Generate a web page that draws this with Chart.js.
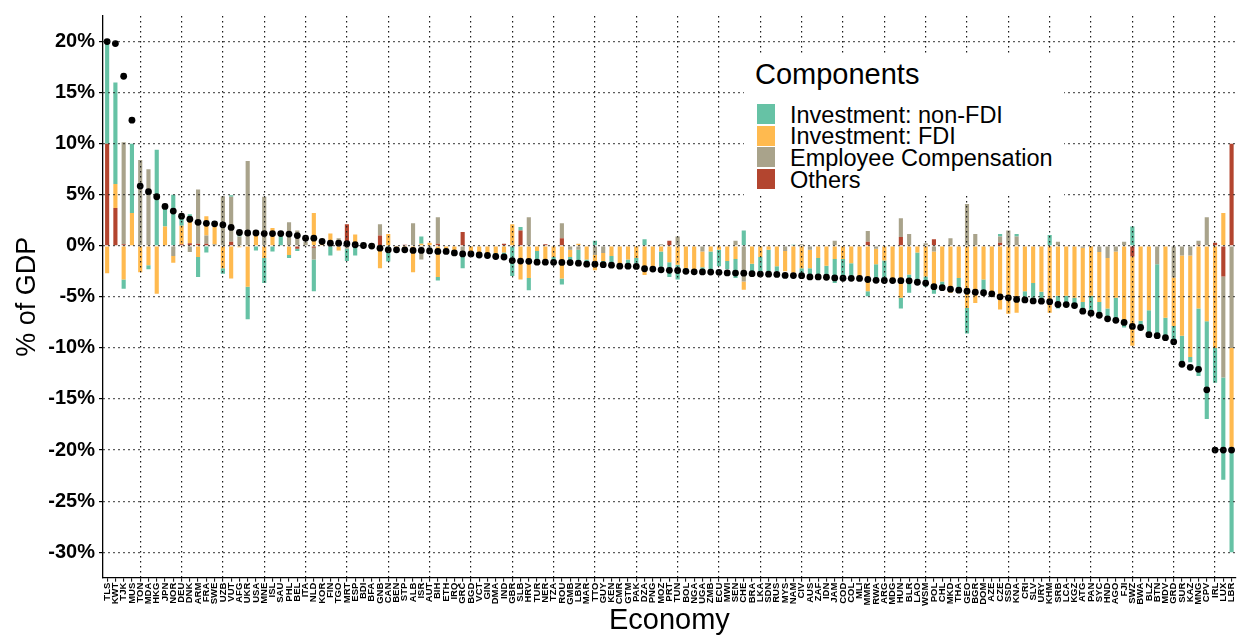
<!DOCTYPE html>
<html>
<head>
<meta charset="utf-8">
<script src="https://cdn.jsdelivr.net/npm/chart.js@4.4.1/dist/chart.umd.min.js"></script>
<style>
  html, body { margin: 0; padding: 0; background: #fff; overflow: hidden; }
  #wrap { position: relative; width: 1244px; height: 635px; }
  #legend { position: absolute; left: 744px; top: 55px; width: 320px; height: 141px; background: #fff;
            font-family: "Liberation Sans", Arial, sans-serif; color: #000; }
  #legend .ttl { position: absolute; left: 11px; top: 3px; font-size: 29px; line-height: 32px; white-space: nowrap; }
  #legend .key { position: absolute; left: 13px; width: 18px; height: 20px; }
  #legend .lab { position: absolute; left: 46px; font-size: 23.5px; line-height: 22px; white-space: nowrap; }
</style>
</head>
<body>
<div id="wrap">
  <canvas id="chart"></canvas>
  <div id="legend"></div>
</div>
<script>
const economies = ['TLS','KWT','TJK','MUS','TON','MDA','HKG','JPN','NOR','DEU','DNK','ARM','FRA','SWE','UZB','VUT','AFG','UKR','USA','MNE',
  'ISL','SAU','PHL','BEL','ITA','NLD','KOR','FIN','TGO','MRT','ESP','BDI','BFA','GNB','CAN','BEN','STP','ALB','ISR','AUT',
  'BIH','ETH','IRQ','GRC','BGD','VCT','GIN','DMA','IND','GBR','SLB','HRV','TUR','NER','TZA','ROU','GMB','LBN','MAR','TTO',
  'GUY','KEN','CMR','GTM','PAK','DZA','PNG','MOZ','PRT','TUN','BOL','NGA','UGA','ZMB','ECU','MWI','SEN','CHE','BRA','LKA',
  'SDN','RUS','MYS','NAM','CIV','AUS','ZAF','IDN','JAM','COD','COL','MLI','MMR','RWA','ARG','MDG','HUN','BLR','LAO','WSM',
  'POL','CHL','MKD','THA','GEO','BGR','DOM','AZE','CZE','SSD','KNA','CRI','SLV','URY','KHM','SRB','LCA','KGZ','ATG','PAN',
  'SYC','HND','AGO','FJI','SWZ','BWA','BLZ','BTN','MDV','GRD','SUR','KAZ','MNG','CPV','IRL','LUX','LBR'];

// % of GDP, one value per economy
const nonFdi = [10,9.95,-0.9,6.8,0,-0.4,9.4,1.7,5.0,0.9,0.25,-1.95,-0.65,0,-0.55,0.15,0.6,-3.2,-0.45,-2.45,
  -0.55,1.25,-0.3,-0.2,0,-3.1,0,-0.95,0,-1.2,-0.95,0,0,0,-1.55,0,0,0,0.7,-0.5,
  -0.35,-0.3,-0.2,-1.5,0,-0.3,0,-0.3,-0.25,-2.95,0.35,-1.2,-1.15,0,-0.3,-0.6,-0.5,-1.5,-0.3,0.5,
  -0.4,-0.65,0,-0.65,-0.5,0.65,0,-1.5,-1.45,-1.45,-0.25,0,-0.3,-1.85,-1.6,-0.8,-1.85,1.5,-0.85,-1.7,
  -2.1,-0.5,0,0.1,-0.65,-0.65,-1.6,-0.9,-2.35,-1.8,-1.3,0,-0.5,-1.5,-1.8,0,-1.05,-1.8,-3.0,-1.0,
  -0.4,-0.6,0,-1.45,-2.5,0,-1.3,0,0.25,0,0.25,-0.65,-1.45,-0.65,1.05,-1.25,-1.0,-0.55,-0.85,-1.6,
  -1.1,-1.2,-2.45,-0.5,1.9,-0.8,-2.65,-7.0,-1.95,-1.85,-2.75,-0.5,-6.6,-9.55,-3.4,-10.0,-10];
const fdi = [-2.7,2.35,-3.3,3.2,-2.6,-1.9,-4.7,1.9,-0.65,1.8,2.6,-1.1,1.9,1.7,-2.2,-3.2,-0.15,-4.0,1.55,-1.2,
  1.75,0,-0.9,0,0,3.2,0.2,1.2,-0.45,0,1.1,0.05,-0.1,-2.2,1.15,-0.4,-0.4,-2.6,0.2,0.3,
  -3.05,-0.3,-0.5,0,-0.7,-0.6,-0.75,-0.7,-0.65,2.1,-3.3,-3.15,-0.5,-1.3,-1.1,-3.2,-0.7,0.2,-1.35,-1.5,
  -0.8,-1.0,-2.0,-1.35,-1.2,-2.85,-2.0,-0.55,-1.6,-1.85,-2.2,-2.4,-1.55,-0.55,-0.4,-1.5,-1.3,-0.8,-1.75,-1.1,
  -0.4,-2.0,-2.0,-2.65,-2.2,-1.8,-1.2,-1.95,-1.3,-1.3,-1.7,-3.0,-4.45,-1.5,-1.45,-3.3,-5.1,-2.8,-0.65,-3.0,
  -3.75,-3.5,-4.6,-3.15,-6.1,-5.6,-3.3,-4.8,-6.25,-6.65,-6.55,-4.45,-3.65,-4.5,-6.55,-4.9,-4.9,-5.1,-5.3,-4.9,
  -4.9,-4.95,-4.55,-7.5,-8.75,-7.35,-6.3,0,-7.05,-4.75,-7.85,-9.95,-6.15,-7.4,-10.0,3.2,-10];
const compensation = [0,0,10.0,0,8.4,7.5,0,0,-1.0,0,-0.6,5.3,0.8,0.15,4.85,4.4,0.9,8.3,0,4.8,
  0,0,2.3,1.5,0.4,-1.15,0,0,0.75,-0.3,0,0,0,1.1,0,0,0,2.2,-1.35,-0.2,
  2.6,0,0,-0.7,0,0,0,0,0,0,0,2.8,0,0,0,1.45,-0.4,-0.4,0,-0.9,
  -0.7,0,0,0,0,0,0,0.15,0,0.9,0,0,-0.55,0,0,0,0.5,-3.5,0,0,
  0,0,-0.5,0,0.15,-0.4,0,0,0.5,0,0,0,1.05,-0.3,0,0,1.85,1.15,0,0.25,
  -0.55,0,0.75,0,4.1,1.15,0,0,0.6,1.5,0.9,0,0,0,0,0.4,0,0,-0.2,0,
  -0.6,-1.2,-0.55,0.4,0,0,0,-1.8,0,-3.1,-0.95,-0.95,0.4,2.8,0,-9.9,-10];
const others = [10,3.7,0.15,0,0,0,0,0,0,0.15,0.25,0.2,0.2,0,0,0.4,0,0,0,0,
  0,0,0,-0.3,0,-0.2,0,0,0,2.1,0,0,0,1.0,0,0,0.1,0,0,0,
  0.2,0,0,1.35,0,0,0,0,0.2,0,1.5,0,0,0.15,0,0.75,0,0,0,0,
  0,0,0,0,0,0,0,0,0.5,0,0,0,0,0,0,0,0,0,0,0,
  0,0,0,0,0,0,0,0,0,0,0,0,0.4,0,0,0,0.85,0,0,0,
  0.65,0,0,0,0,0,0,0,0.3,0,0,0,0,0,0,0,0,0,0,0,
  0,0,0,0,-1.05,0,0,0,0,0,0,0,0.1,0,0.3,-3.0,10];
const balance = [20,19.8,16.6,12.3,5.85,5.3,4.8,3.85,3.4,2.9,2.6,2.3,2.2,2.15,2.05,1.8,1.3,1.25,1.25,1.2,
  1.2,1.2,1.15,1.0,0.75,0.75,0.42,0.26,0.26,0.2,0.1,0.03,-0.03,-0.23,-0.4,-0.4,-0.4,-0.45,-0.45,-0.5,
  -0.55,-0.55,-0.7,-0.8,-0.8,-0.9,-0.95,-1.05,-1.1,-1.45,-1.5,-1.52,-1.6,-1.6,-1.62,-1.63,-1.64,-1.7,-1.8,-1.8,
  -1.85,-1.9,-2.0,-2.0,-2.02,-2.25,-2.28,-2.35,-2.4,-2.42,-2.5,-2.55,-2.56,-2.57,-2.6,-2.66,-2.67,-2.68,-2.73,-2.77,
  -2.78,-2.8,-2.9,-2.92,-2.93,-3.05,-3.05,-3.08,-3.15,-3.18,-3.19,-3.2,-3.3,-3.38,-3.4,-3.41,-3.42,-3.43,-3.57,-3.65,
  -4.0,-4.1,-4.25,-4.35,-4.45,-4.55,-4.6,-4.7,-5.0,-5.1,-5.25,-5.3,-5.4,-5.42,-5.48,-5.75,-5.76,-5.85,-6.4,-6.6,
  -6.8,-7.15,-7.3,-7.5,-7.9,-8.0,-8.7,-8.8,-9.0,-9.4,-11.6,-11.9,-12.1,-14.1,-20,-20,-20];

const yTicks = [-30,-25,-20,-15,-10,-5,0,5,10,15,20];

const legendItems = [
  {label: 'Investment: non-FDI', color: '#66c2a5'},
  {label: 'Investment: FDI', color: '#ffba4f'},
  {label: 'Employee Compensation', color: '#a9a38b'},
  {label: 'Others', color: '#b3452f'}
];

const font = '"Liberation Sans", Arial, sans-serif';
Chart.defaults.font.family = font;
Chart.defaults.color = '#000';

const gridDot = '#1a1a1a';

const barSet = (label, data, color) => ({
  type: 'bar', label: label, data: data, backgroundColor: color, borderWidth: 0,
  stack: 'comp', barPercentage: 0.5, categoryPercentage: 1.0
});

const data = {
  labels: economies,
  datasets: [
    {
      type: 'line', label: 'balance', data: balance, stack: 'dots', order: -1,
      showLine: false, pointRadius: 3.4, pointHoverRadius: 3.4,
      pointBackgroundColor: '#000', pointBorderWidth: 0, borderColor: '#000'
    },
    barSet('Others', others, legendItems[3].color),
    barSet('Employee Compensation', compensation, legendItems[2].color),
    barSet('Investment: FDI', fdi, legendItems[1].color),
    barSet('Investment: non-FDI', nonFdi, legendItems[0].color)
  ]
};

const config = {
  type: 'bar',
  data: data,
  options: {
    responsive: true,
    maintainAspectRatio: false,
    animation: false,
    layout: { padding: { top: 12.3, right: 0, bottom: 0, left: 0 } },
    plugins: { legend: { display: false }, tooltip: { enabled: false } },
    scales: {
      x: {
        offset: true,
        grid: {
          offset: false, z: 1, lineWidth: 1.2,
          color: (ctx) => (ctx.index % 5 === 4 ? gridDot : 'rgba(0,0,0,0)'),
          tickColor: '#000', tickLength: 4, tickWidth: 1
        },
        border: { display: true, color: '#000', width: 1.3, dash: [1.4, 3.6], z: 2 },
        ticks: {
          autoSkip: false, maxRotation: 90, minRotation: 90, padding: 1,
          font: { size: 9.5, weight: 'bold' }, color: '#000'
        },
        title: { display: true, text: 'Economy', font: { size: 29, lineHeight: 1 }, padding: { top: 0, bottom: 0 } },
        afterFit: (scale) => { scale.height = 635 - 577.7; }
      },
      y: {
        stacked: true,
        min: -32.5, max: 22.5,
        afterBuildTicks: (scale) => { scale.ticks = yTicks.map(v => ({ value: v })); },
        grid: { z: 1, color: gridDot, lineWidth: 1.2, tickColor: '#000', tickLength: 4 },
        border: { display: true, color: '#000', width: 1.3, dash: [1.4, 3.6], z: 2 },
        ticks: {
          padding: 4, font: { size: 20, weight: 'bold' }, color: '#000',
          callback: (v) => v + '%'
        },
        title: { display: true, text: '% of GDP', font: { size: 27, lineHeight: 1 }, padding: { top: 14.5, bottom: 0 } },
        afterFit: (scale) => { scale.width = 103; }
      }
    }
  }
};

const chart = new Chart(document.getElementById('chart'), config);

// legend drawn as html, placed inside the panel like the original
const legendBox = document.getElementById('legend');
let html = '<div class="ttl">Components</div>';
legendItems.forEach((item, i) => {
  const top = 49 + i * 21.7;
  html += '<div class="key" style="top:' + top + 'px;background:' + item.color + '"></div>';
  html += '<div class="lab" style="top:' + (top - 0.5) + 'px">' + item.label + '</div>';
});
legendBox.innerHTML = html;
</script>
</body>
</html>
